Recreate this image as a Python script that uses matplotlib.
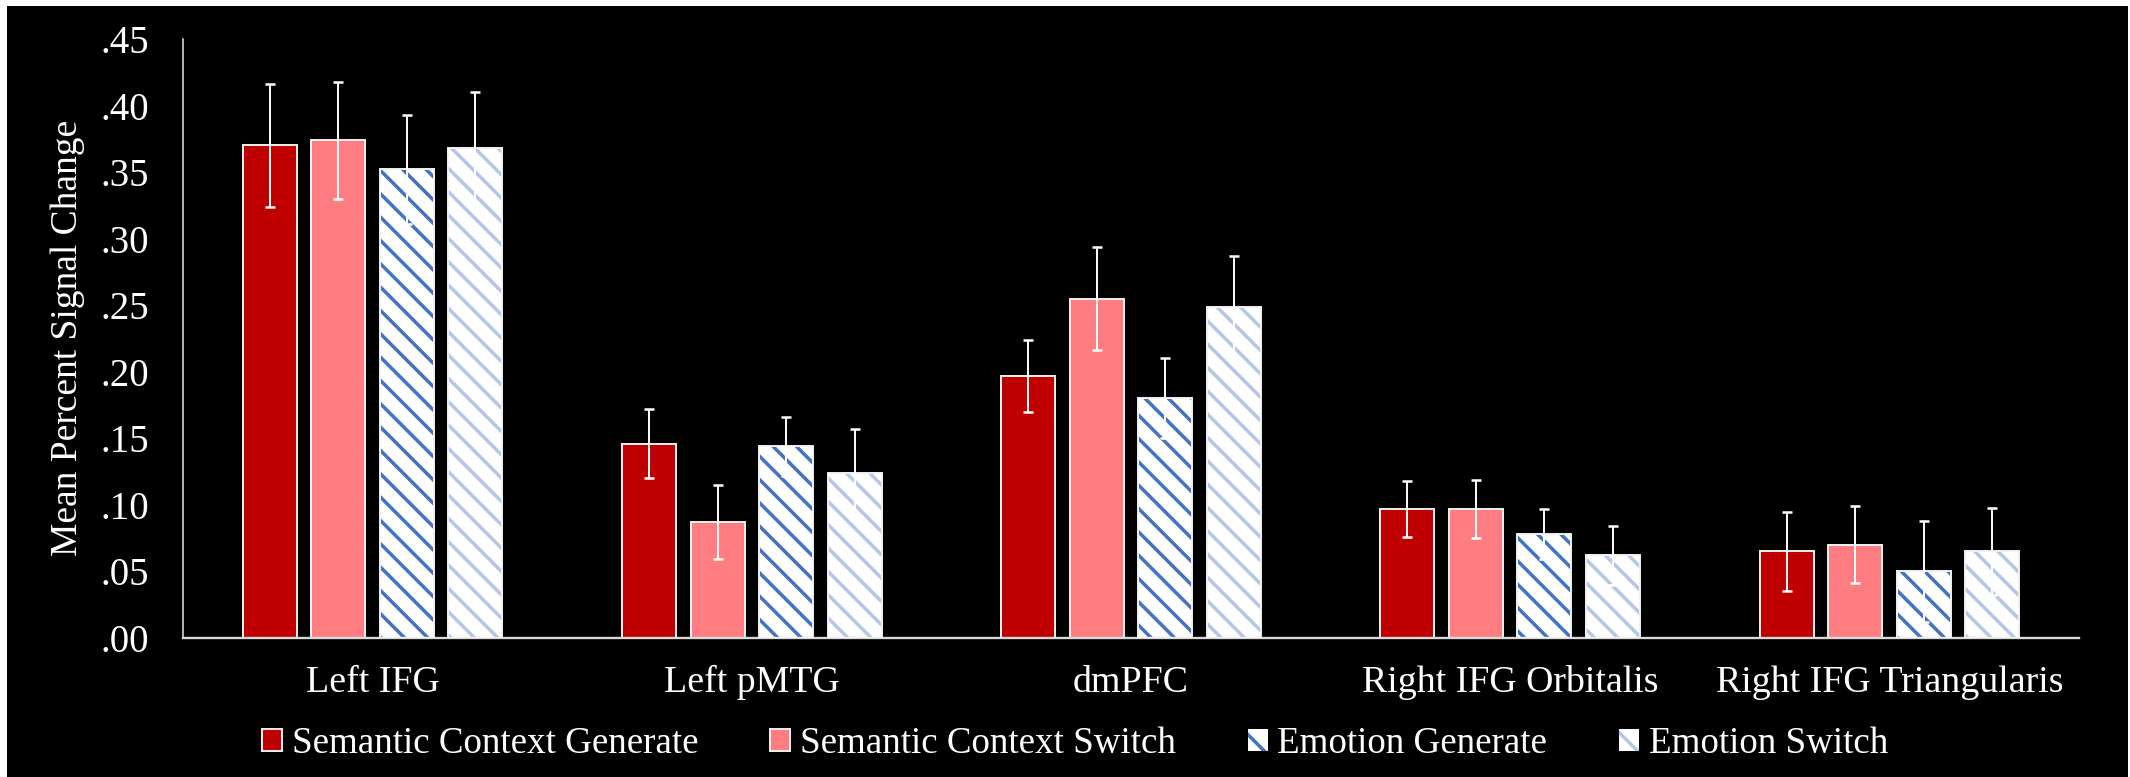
import matplotlib
matplotlib.use("Agg")
import matplotlib.pyplot as plt
from matplotlib.patches import Patch, Rectangle
from matplotlib.ticker import FuncFormatter
import numpy as np

regions = ["Left IFG", "Left pMTG", "dmPFC", "Right IFG Orbitalis", "Right IFG Triangularis"]
series_names = ["Semantic Context Generate", "Semantic Context Switch",
                "Emotion Generate", "Emotion Switch"]

sem_generate = [0.370, 0.146, 0.197, 0.097, 0.065]
sem_switch = [0.374, 0.087, 0.255, 0.097, 0.070]
emo_generate = [0.352, 0.144, 0.180, 0.078, 0.050]
emo_switch = [0.368, 0.124, 0.249, 0.062, 0.065]

sem_generate_err = [0.046, 0.026, 0.027, 0.021, 0.030]
sem_switch_err = [0.044, 0.028, 0.039, 0.022, 0.029]
emo_generate_err = [0.041, 0.022, 0.030, 0.019, 0.038]
emo_switch_err = [0.042, 0.033, 0.038, 0.022, 0.033]

y_ticks = [0.00, 0.05, 0.10, 0.15, 0.20, 0.25, 0.30, 0.35, 0.40, 0.45]

RED = "#C00000"
PINK = "#FF7C80"
BLUE = "#4472C4"
LIGHT_BLUE = "#B4C7E7"
EDGE = "#F2F2F2"

plt.rcParams["font.family"] = ["Liberation Serif", "DejaVu Serif"]
plt.rcParams["hatch.linewidth"] = 1.8

DPI = 140
W, H = 2130, 777
fig = plt.figure(figsize=(W / DPI, H / DPI), dpi=DPI, facecolor="white")

# black panel inside a thin white frame
fig.patches.append(Rectangle((7 / W, 0), (2128 - 7) / W, (H - 6) / H,
                             transform=fig.transFigure, facecolor="black",
                             edgecolor="none", zorder=-10))

ax = fig.add_axes([183 / W, (H - 638) / H, (2079 - 183) / W, (638 - 39) / H])
ax.set_zorder(5)
ax.set_facecolor("black")

x = np.arange(len(regions))
width = 0.1424
step = 0.1806
offsets = np.array([-1.5, -0.5, 0.5, 1.5]) * step

values = [sem_generate, sem_switch, emo_generate, emo_switch]
errors = [sem_generate_err, sem_switch_err, emo_generate_err, emo_switch_err]
styles = [(RED, None), (PINK, None), (BLUE, "\\\\"), (LIGHT_BLUE, "\\\\")]

for vals, errs, off, (col, hatch) in zip(values, errors, offsets, styles):
    xs = x + off
    if hatch is None:
        ax.bar(xs, vals, width, color=col, edgecolor=EDGE, linewidth=1.0, zorder=2)
    else:
        ax.bar(xs, vals, width, color="white", edgecolor=col, hatch=hatch,
               linewidth=0, zorder=2)
        ax.bar(xs, vals, width, fill=False, edgecolor=EDGE, linewidth=1.0, zorder=3)
    ax.errorbar(xs, vals, yerr=errs, fmt="none", ecolor="white", elinewidth=1.0,
                capsize=2.6, capthick=1.3, zorder=4)

ax.set_xlim(-0.5, len(regions) - 0.5)
ax.set_ylim(0, 0.45)
ax.set_yticks(y_ticks)
ax.yaxis.set_major_formatter(FuncFormatter(lambda v, p: f"{v:.2f}".lstrip("0")))
ax.set_xticks(x)
ax.set_xticklabels(regions)
ax.tick_params(axis="y", length=0, pad=17.5, labelsize=20, colors="white")
ax.tick_params(axis="x", length=0, pad=14, labelsize=19.5, colors="white")

for side in ("top", "right"):
    ax.spines[side].set_visible(False)
ax.spines["left"].set_color("#E0E0E0")
ax.spines["left"].set_linewidth(0.8)
ax.spines["bottom"].set_color("#D9D9D9")
ax.spines["bottom"].set_linewidth(1.2)

fig.text(68 / W, 1 - 338 / H, "Mean Percent Signal Change", rotation=90,
         ha="center", va="center", color="white", fontsize=19.3)

handles = []
for name, (col, hatch) in zip(series_names, styles):
    if hatch is None:
        handles.append(Patch(facecolor=col, edgecolor=EDGE, linewidth=1.0, label=name))
    else:
        handles.append(Patch(facecolor="white", edgecolor=col, hatch="\\", linewidth=0,
                             label=name))
leg = fig.legend(handles=handles, loc="center", bbox_to_anchor=(1075 / W, 1 - 744 / H),
                 ncol=4, frameon=False, fontsize=19, handlelength=0.55,
                 handleheight=0.55, handletextpad=0.25, columnspacing=1.95,
                 labelcolor="white")

fig.savefig("out.png", dpi=DPI, facecolor=fig.get_facecolor())
